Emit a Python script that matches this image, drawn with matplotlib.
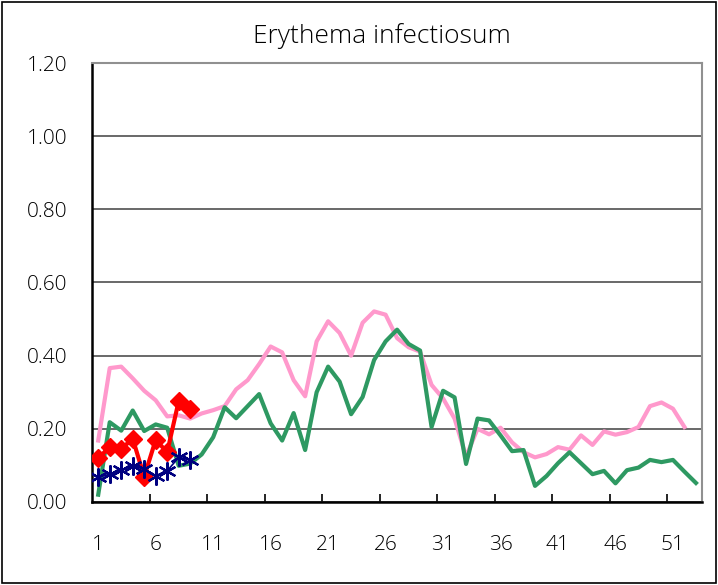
import matplotlib
matplotlib.use("Agg")
import matplotlib.pyplot as plt
import numpy as np

plt.rcParams['font.family'] = ['Open Sans', 'DejaVu Sans']
plt.rcParams['font.weight'] = 'light'

weeks = list(range(1, 54))

# green line (53 weeks)
green = [0.02, 0.218, 0.195, 0.25, 0.194, 0.212, 0.203, 0.099, 0.105, 0.13,
         0.177, 0.259, 0.229, 0.262, 0.295, 0.215, 0.168, 0.243, 0.142, 0.30,
         0.37, 0.329, 0.24, 0.287, 0.388, 0.439, 0.471, 0.432, 0.414, 0.205,
         0.304, 0.286, 0.104, 0.228, 0.223, 0.182, 0.139, 0.142, 0.044, 0.071,
         0.106, 0.136, 0.106, 0.076, 0.085, 0.051, 0.087, 0.094, 0.115, 0.109,
         0.115, 0.083, 0.052]

# pink line (52 weeks)
pink = [0.168, 0.366, 0.37, 0.338, 0.304, 0.278, 0.234, 0.237, 0.228, 0.242,
        0.251, 0.262, 0.308, 0.333, 0.377, 0.425, 0.409, 0.333, 0.289, 0.439,
        0.494, 0.462, 0.40, 0.49, 0.521, 0.512, 0.448, 0.423, 0.411, 0.32,
        0.283, 0.228, 0.124, 0.20, 0.185, 0.203, 0.163, 0.136, 0.122, 0.131,
        0.15, 0.143, 0.182, 0.156, 0.193, 0.184, 0.191, 0.205, 0.262, 0.272,
        0.255, 0.205]

# red diamonds (9 weeks)
red = [0.12, 0.15, 0.145, 0.173, 0.069, 0.17, 0.136, 0.276, 0.255]

# navy asterisks (9 weeks)
navy = [0.067, 0.076, 0.087, 0.099, 0.09, 0.072, 0.085, 0.122, 0.115]

xticks = [1, 6, 11, 16, 21, 26, 31, 36, 41, 46, 51]
yticks = [0.0, 0.2, 0.4, 0.6, 0.8, 1.0, 1.2]

fig = plt.figure(figsize=(7.18, 5.85), dpi=100)
ax = fig.add_axes([0.1288, 0.1419, 0.9773 - 0.1288, 0.8923 - 0.1419])

ax.plot(weeks[:len(pink)], pink, color='#FF99CC', lw=3, zorder=3)
ax.plot(weeks[:len(green)], green, color='#2E9962', lw=3, zorder=4)
ax.plot(weeks[:len(red)], red, color='#FF0000', lw=3, marker='D',
        markersize=9.5, zorder=5)
ax.plot(weeks[:len(navy)], navy, color='#000080', lw=1.2, marker=(6, 2, 0),
        markersize=13, markeredgewidth=1.6, zorder=6)

ax.set_xlim(0.5, 53.5)
ax.set_ylim(0, 1.2)
ax.set_yticks(yticks)
ax.set_yticklabels([f"{v:.2f}" for v in yticks])
ax.set_xticks(xticks)
ax.set_xticklabels([str(v) for v in xticks])
ax.set_xticks(np.arange(5.5, 54, 5), minor=True)
ax.tick_params(axis='x', which='major', length=0, pad=24, labelsize=15)
ax.tick_params(axis='x', which='minor', length=6, width=1.2, direction='in', color='black')
ax.tick_params(axis='y', length=0, pad=18, labelsize=15)
ax.grid(axis='y', color='#404040', lw=1.1)
ax.set_axisbelow(True)
for s in ax.spines.values():
    s.set_color('#909090')
    s.set_linewidth(1.5)
ax.spines['left'].set_color('black')
ax.spines['bottom'].set_color('black')
ax.spines['left'].set_linewidth(1.8)
ax.spines['bottom'].set_linewidth(1.8)

fig.text(0.532, 0.938, "Erythema infectiosum", ha='center', va='center', fontsize=19)

border = plt.Rectangle((0.003, 0.003), 0.994, 0.994, transform=fig.transFigure,
                       fill=False, edgecolor='black', lw=1.2)
fig.patches.append(border)

fig.savefig("out.png", dpi=100)
